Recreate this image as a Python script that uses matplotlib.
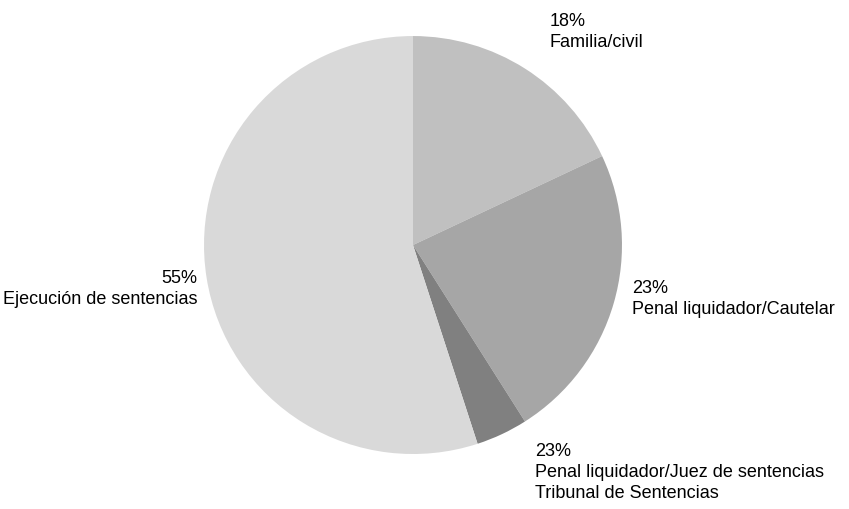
import matplotlib
matplotlib.use('Agg')
import matplotlib.pyplot as plt
from matplotlib import font_manager

# Data
categories = ['Familia/civil', 'Penal liquidador/Cautelar',
              'Penal liquidador/Juez de sentencias', 'Ejecución de sentencias']
shares = [18, 23, 4, 55]
slice_colors = ['#c0c0c0', '#a6a6a6', '#808080', '#d9d9d9']
label_texts = [
    '18%\nFamilia/civil',
    '23%\nPenal liquidador/Cautelar',
    '23%\nPenal liquidador/Juez de sentencias\nTribunal de Sentencias',
    '55%\nEjecución de sentencias',
]

available = {f.name for f in font_manager.fontManager.ttflist}
if 'Liberation Sans Narrow' in available:
    family, fsize = ['Liberation Sans Narrow'], 15
else:
    family, fsize = ['Liberation Sans'], 13
plt.rcParams['font.family'] = family + ['DejaVu Sans']

fig = plt.figure(figsize=(8.49, 5.10), dpi=100)
ax = fig.add_axes([0.2403, 0.1078, 0.4923, 0.8196])
ax.pie(shares, colors=slice_colors, startangle=90, counterclock=False,
       wedgeprops={'linewidth': 0})
ax.set_xlim(-1, 1)
ax.set_ylim(-1, 1)
ax.axis('off')

# label anchors (data coords, radius = 1)
label_pos = [(0.655, 1.115, 'left'), (1.048, -0.163, 'left'),
             (0.584, -0.943, 'left'), (-1.033, -0.115, 'right')]
for text, (x, y, ha) in zip(label_texts, label_pos):
    ax.text(x, y, text, ha=ha, va='top', fontsize=fsize, color='black',
            linespacing=1.3, multialignment=ha, clip_on=False)

fig.savefig('out.png', dpi=100)
